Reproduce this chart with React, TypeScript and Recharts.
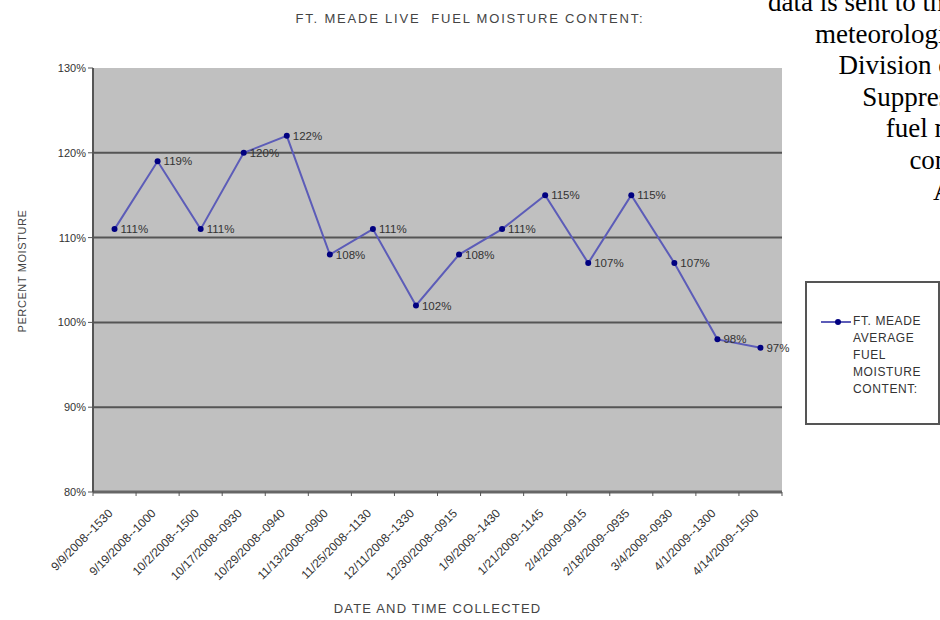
import { CartesianGrid, LabelList, Legend, Line, LineChart, ReferenceLine, XAxis, YAxis } from "recharts";

// sampling date/time for each reading
const collected = [
  "9/9/2008--1530", "9/19/2008--1000", "10/2/2008--1500", "10/17/2008--0930",
  "10/29/2008--0940", "11/13/2008--0900", "11/25/2008--1130", "12/11/2008--1330",
  "12/30/2008--0915", "1/9/2009--1430", "1/21/2009--1145", "2/4/2009--0915",
  "2/18/2009--0935", "3/4/2009--0930", "4/1/2009--1300", "4/14/2009--1500",
];
// average live fuel moisture, percent
const moisture = [111, 119, 111, 120, 122, 108, 111, 102, 108, 111, 115, 107, 115, 107, 98, 97];
const yTicks = [80, 90, 100, 110, 120, 130];
const gridLines = [90, 100, 110, 120];
const seriesName = "FT. MEADE AVERAGE FUEL MOISTURE CONTENT:";
const sideText = ["data is sent to the", "meteorologist", "Division of Fire", "Suppression", "fuel moisture", "content", "A"];

const rows = collected.map((date, i) => ({ date, moisture: moisture[i] }));

const W = 940;
const H = 620;
const margin = { top: 68, right: 158, bottom: 0, left: 0 };
const yAxisWidth = 93;
const xAxisHeight = 128;
const halfBand = (W - margin.left - margin.right - yAxisWidth) / collected.length / 2;
const font = "'Liberation Sans', Arial, sans-serif";

function DateTick(props: any) {
  const { x, y, payload, index } = props;
  const ax = x - 1;
  const ay = y + 22;
  return (
    <g>
      <line x1={x - halfBand} x2={x - halfBand} y1={y} y2={y + 4} stroke="#555" />
      {index === collected.length - 1 && (
        <line x1={x + halfBand} x2={x + halfBand} y1={y} y2={y + 4} stroke="#555" />
      )}
      <text
        x={ax}
        y={ay}
        transform={`rotate(-45 ${ax} ${ay})`}
        textAnchor="end"
        fontSize={12}
        fontFamily={font}
        fill="#333"
      >
        {payload.value}
      </text>
    </g>
  );
}

function LegendBox() {
  return (
    <div
      style={{
        width: 135,
        height: 144,
        border: "2px solid #555",
        background: "#fff",
        boxSizing: "border-box",
        position: "relative",
        fontFamily: font,
      }}
    >
      <svg width={30} height={10} style={{ position: "absolute", left: 14, top: 34 }}>
        <line x1={0} x2={30} y1={5} y2={5} stroke="#5c5cb8" strokeWidth={2} />
        <circle cx={17} cy={5} r={3} fill="#000080" />
      </svg>
      <div
        style={{
          position: "absolute",
          left: 46,
          top: 30,
          width: 78,
          fontSize: 12,
          letterSpacing: 0.6,
          lineHeight: "17px",
          color: "#333",
          textAlign: "left",
        }}
      >
        {seriesName}
      </div>
    </div>
  );
}

export default function App() {
  return (
    <div
      style={{
        position: "absolute",
        left: 0,
        top: 0,
        width: W,
        height: H,
        overflow: "hidden",
        background: "#fff",
        fontFamily: font,
      }}
    >
      <LineChart width={W} height={H} data={rows} margin={margin}>
        <CartesianGrid fill="#c0c0c0" fillOpacity={1} horizontal={false} vertical={false} />
        {gridLines.map((v) => (
          <ReferenceLine key={v} y={v} stroke="#555" strokeWidth={2} />
        ))}
        <XAxis
          dataKey="date"
          height={xAxisHeight}
          interval={0}
          padding={{ left: halfBand, right: halfBand }}
          tickLine={false}
          tickSize={0}
          tickMargin={0}
          axisLine={{ stroke: "#666", strokeWidth: 3 }}
          tick={<DateTick />}
        />
        <YAxis
          width={yAxisWidth}
          domain={[80, 130]}
          ticks={yTicks}
          tickFormatter={(v) => `${v}%`}
          tickSize={5}
          tickLine={{ stroke: "#555" }}
          axisLine={{ stroke: "#555", strokeWidth: 2 }}
          tick={{ fontSize: 11, fill: "#333", fontFamily: font }}
        />
        <Legend
          layout="vertical"
          align="center"
          verticalAlign="middle"
          wrapperStyle={{ left: 805, top: 281, width: 135 }}
          content={() => <LegendBox />}
        />
        <Line
          name={seriesName}
          dataKey="moisture"
          stroke="#5c5cb8"
          strokeWidth={2}
          dot={{ r: 3, fill: "#000080", stroke: "none" }}
          activeDot={false}
          isAnimationActive={false}
        >
          <LabelList
            dataKey="moisture"
            position="right"
            offset={6}
            formatter={(v: any) => `${v}%`}
            style={{ fontSize: 11.5, fill: "#333", fontFamily: font }}
          />
        </Line>
      </LineChart>

      <div
        style={{
          position: "absolute",
          left: 0,
          width: W,
          top: 11,
          textAlign: "center",
          fontSize: 13,
          letterSpacing: 1.8,
          color: "#444",
          whiteSpace: "pre",
        }}
      >
        {"FT. MEADE LIVE  FUEL MOISTURE CONTENT:"}
      </div>
      <div
        style={{
          position: "absolute",
          left: 22,
          top: 271,
          transform: "translate(-50%, -50%) rotate(-90deg)",
          fontSize: 11,
          letterSpacing: 0.6,
          color: "#444",
          whiteSpace: "nowrap",
        }}
      >
        PERCENT MOISTURE
      </div>
      <div
        style={{
          position: "absolute",
          left: 93,
          width: 689,
          top: 601,
          textAlign: "center",
          fontSize: 13,
          letterSpacing: 1.2,
          color: "#444",
          whiteSpace: "nowrap",
        }}
      >
        DATE AND TIME COLLECTED
      </div>

      {sideText.map((t, i) => (
        <div
          key={t}
          style={{
            position: "absolute",
            left: i === 0 ? 768 : 815 + (i - 1) * 23.6,
            top: -13 + i * 31.5,
            fontFamily: "'Liberation Serif', 'Times New Roman', serif",
            fontSize: 27,
            lineHeight: "30px",
            color: "#000",
            whiteSpace: "nowrap",
          }}
        >
          {t}
        </div>
      ))}
    </div>
  );
}
